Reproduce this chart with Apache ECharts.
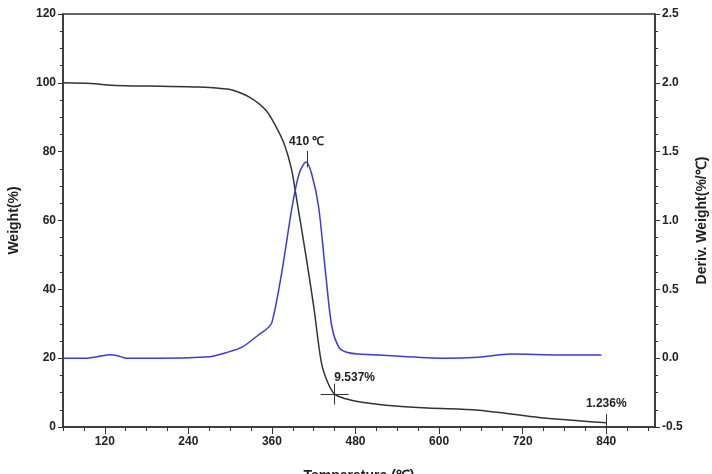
<!DOCTYPE html>
<html>
<head>
<meta charset="utf-8">
<script src="https://cdn.jsdelivr.net/npm/echarts@6/dist/echarts.min.js"></script>
<style>
  html, body { margin: 0; padding: 0; background: #fff; }
  #chart { width: 712px; height: 474px; }
</style>
</head>
<body>
<div id="chart"></div>
<script>
// TGA weight curve (temperature ℃, weight %)
var tgaTemp = [60, 100, 130, 160, 200, 255, 290, 303, 327, 351, 366, 378, 388, 394, 409, 420, 431, 440, 450, 466, 489, 537, 584, 656, 703, 751, 800, 840];
var tgaWeight = [100, 99.8, 99.3, 99.1, 99.0, 98.8, 98.3, 97.9, 95.9, 92.1, 87.2, 82, 75, 68, 49.5, 35, 18.7, 13, 9.54, 8.2, 7.2, 6.1, 5.5, 4.9, 3.8, 2.6, 1.8, 1.24];

// DTG derivative curve (temperature ℃, %/℃)
var dtgTemp = [60, 94, 115, 127, 137, 151, 199, 270, 294, 317, 341, 352, 360, 374, 389, 399, 409, 417, 427, 437, 446, 456, 466, 484, 513, 609, 656, 703, 774, 833];
var dtgDeriv = [0.0, 0.0, 0.015, 0.025, 0.02, 0.0, 0.0, 0.01, 0.04, 0.08, 0.17, 0.21, 0.26, 0.62, 1.10, 1.34, 1.425, 1.34, 1.10, 0.62, 0.23, 0.08, 0.045, 0.03, 0.023, 0.0, 0.007, 0.03, 0.023, 0.023];

var xMajor = [120, 240, 360, 480, 600, 720, 840];
var peakT = 410, peakD = 1.425;
var residT = 450, residW = 9.537;
var endT = 840, endW = 1.236;

var txt = '#222';
var fnt = 'Liberation Sans';

function pairs(xs, ys) {
  var out = [];
  for (var i = 0; i < xs.length; i++) out.push([xs[i], ys[i]]);
  return out;
}

function tagLabel(text, extra) {
  var l = { show: true, position: 'end', formatter: text, color: txt, fontSize: 12, fontWeight: 'bold', fontFamily: fnt };
  for (var k in extra) l[k] = extra[k];
  return l;
}

var myChart = echarts.init(document.getElementById('chart'));
myChart.setOption({
  animation: false,
  textStyle: { fontFamily: fnt },
  grid: { left: 63, right: 57, top: 14, bottom: 47, outerBoundsMode: 'none', containLabel: false,
    show: true, borderColor: '#333', borderWidth: 1.5 },
  xAxis: [{
    type: 'value', min: 60, max: 910, interval: 30,
    name: 'Temperature (℃)', nameLocation: 'middle', nameGap: 42,
    nameTextStyle: { fontSize: 14, fontWeight: 'bold', color: txt, fontFamily: fnt },
    axisLine: { onZero: false, lineStyle: { color: '#333', width: 1.5 } },
    axisTick: { length: 4, lineStyle: { color: '#333' } },
    axisLabel: {
      color: txt, fontSize: 12, fontWeight: 'bold', margin: 9, showMaxLabel: false,
      formatter: function (v) { return v % 120 === 0 ? v : ''; }
    },
    splitLine: { show: false }
  }, {
    type: 'value', min: 60, max: 910, position: 'bottom',
    axisLine: { show: false, onZero: false },
    axisTick: { customValues: xMajor, length: 7, lineStyle: { color: '#333' } },
    axisLabel: { show: false },
    splitLine: { show: false }
  }],
  yAxis: [{
    type: 'value', min: 0, max: 120, interval: 20,
    name: 'Weight(%)', nameLocation: 'middle', nameGap: 42, nameRotate: 90,
    nameTextStyle: { fontSize: 14, fontWeight: 'bold', color: txt, fontFamily: fnt },
    axisLine: { show: true, onZero: false, lineStyle: { color: '#333', width: 1.5 } },
    axisTick: { show: true, length: 5, lineStyle: { color: '#333' } },
    minorTick: { show: true, splitNumber: 4, length: 3, lineStyle: { color: '#333' } },
    axisLabel: { color: txt, fontSize: 12, fontWeight: 'bold', margin: 7 },
    splitLine: { show: false }
  }, {
    type: 'value', min: -0.5, max: 2.5, interval: 0.5, position: 'right',
    name: 'Deriv. Weight(%/℃)', nameLocation: 'middle', nameGap: 40, nameRotate: 90,
    nameTextStyle: { fontSize: 14, fontWeight: 'bold', color: txt, fontFamily: fnt },
    axisLine: { show: true, onZero: false, lineStyle: { color: '#333', width: 1.5 } },
    axisTick: { show: true, length: 5, lineStyle: { color: '#333' } },
    minorTick: { show: true, splitNumber: 4, length: 3, lineStyle: { color: '#333' } },
    axisLabel: { color: txt, fontSize: 12, fontWeight: 'bold', margin: 7,
      formatter: function (v) { return v.toFixed(1); } },
    splitLine: { show: false }
  }],
  series: [{
    name: 'Weight', type: 'line', xAxisIndex: 0, yAxisIndex: 0,
    data: pairs(tgaTemp, tgaWeight), smooth: 0.3, showSymbol: false,
    lineStyle: { color: '#333', width: 1.5 },
    markLine: {
      silent: true, symbol: 'none', animation: false,
      lineStyle: { color: '#333', width: 1, type: 'solid' },
      label: { show: false },
      data: [
        [{ coord: [residT - 20, residW] }, { coord: [residT + 20, residW] }],
        [{ coord: [residT, residW - 3], label: tagLabel(residW + '%', { offset: [20, 5] }) },
         { coord: [residT, residW + 3] }],
        [{ coord: [endT, 0], label: tagLabel(endW + '%', { distance: 4 }) },
         { coord: [endT, endW + 2.5] }]
      ]
    }
  }, {
    name: 'Deriv', type: 'line', xAxisIndex: 0, yAxisIndex: 1,
    data: pairs(dtgTemp, dtgDeriv), smooth: 0.3, showSymbol: false,
    lineStyle: { color: '#3a3ae0', width: 1.5 },
    markLine: {
      silent: true, symbol: 'none', animation: false,
      lineStyle: { color: '#333', width: 1, type: 'solid' },
      data: [
        [{ coord: [peakT, peakD - 0.04], label: tagLabel(peakT + ' ℃', { distance: 3 }) },
         { coord: [peakT, peakD + 0.08] }]
      ]
    }
  }]
});
</script>
</body>
</html>
